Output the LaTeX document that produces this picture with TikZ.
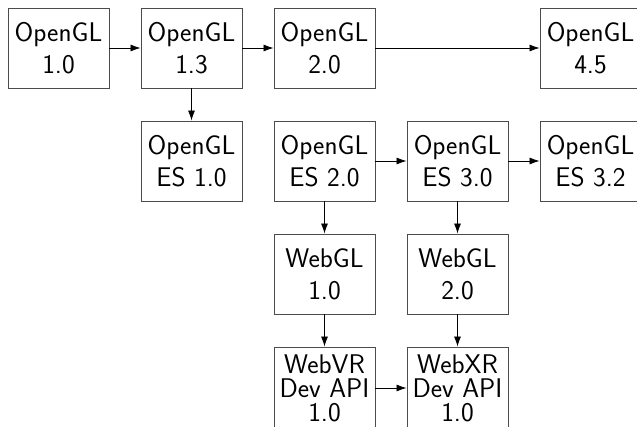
\documentclass[tikz,border=0pt]{standalone}
\usetikzlibrary{arrows.meta}
\begin{document}
\begin{tikzpicture}[x=1pt,y=-1pt,
  box/.style={draw=black!70,line width=0.9pt,rectangle,minimum width=101pt,minimum height=80pt,inner sep=0pt,align=center,
    font=\sffamily\fontsize{27}{32}\selectfont},
  tallbox/.style={box,minimum height=82pt,font=\sffamily\fontsize{27}{24}\selectfont},
  arr/.style={line width=0.8pt,-{Latex[length=10pt,width=7pt]}}]
\clip (0,0) rectangle (637,427);
\node[box] (gl10) at (58.5,48) {OpenGL\\1.0};
\node[box] (gl13) at (191.5,48) {OpenGL\\1.3};
\node[box] (gl20) at (324.5,48) {OpenGL\\2.0};
\node[box] (gl45) at (590.5,48) {OpenGL\\4.5};
\node[box] (es10) at (191.5,161) {OpenGL\\ES 1.0};
\node[box] (es20) at (324.5,161) {OpenGL\\ES 2.0};
\node[box] (es30) at (457.5,161) {OpenGL\\ES 3.0};
\node[box] (es32) at (590.5,161) {OpenGL\\ES 3.2};
\node[box] (web1) at (324.5,274) {WebGL\\1.0};
\node[box] (web2) at (457.5,274) {WebGL\\2.0};
\node[tallbox] (vr) at (324.5,388) {WebVR\\Dev API\\1.0};
\node[tallbox] (xr) at (457.5,388) {WebXR\\Dev API\\1.0};
\draw[arr] (gl10) -- (gl13);
\draw[arr] (gl13) -- (gl20);
\draw[arr] (gl20) -- (gl45);
\draw[arr] (gl13) -- (es10);
\draw[arr] (es20) -- (es30);
\draw[arr] (es30) -- (es32);
\draw[arr] (es20) -- (web1);
\draw[arr] (es30) -- (web2);
\draw[arr] (web1) -- (vr);
\draw[arr] (web2) -- (xr);
\draw[arr] (vr) -- (xr);
\end{tikzpicture}
\end{document}
